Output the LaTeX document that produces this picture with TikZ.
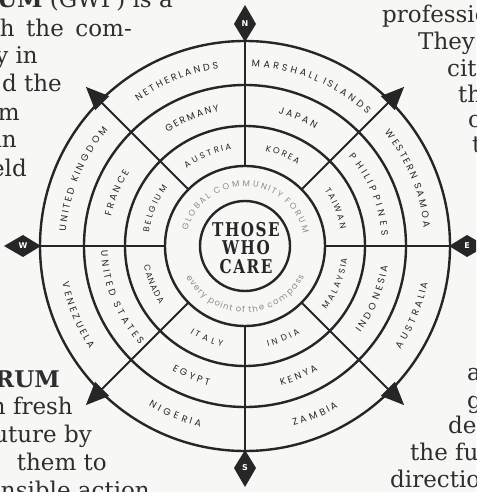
\documentclass[tikz,border=0pt]{standalone}
\usepackage{fontspec}
\setmainfont{DejaVu Serif}
\newfontfamily\labfont{Poppins}
\newfontfamily\slabfont[FakeStretch=0.8,LetterSpace=8]{DejaVu Serif}
\newfontfamily\dirfont{DejaVu Sans}
\usetikzlibrary{decorations.text}
\definecolor{ink}{HTML}{262626}
\definecolor{paper}{HTML}{F7F7F5}
\definecolor{soft}{HTML}{8C8C8C}
\definecolor{bodyink}{HTML}{2E2E2E}
\def\lblsize{\labfont\fontsize{9.5}{9.5}\selectfont}
\newcommand\bodyfnt{\fontsize{23}{28}\selectfont}
% #1 centre angle, #2 baseline radius, #3 characters, #4 pitch, #5 +1 upper / -1 lower, #6 text
\newcommand\arclabel[6]{%
  \pgfmathsetmacro\hspan{#3*#4/#2*90/pi}%
  \pgfmathsetmacro\sang{#1+#5*\hspan}%
  \pgfmathsetmacro\eang{#1-#5*\hspan}%
  \path[decorate, decoration={text effects along path, text={#6},
    /pgf/decoration/text effects/fit text to path,
    /pgf/decoration/text effects/characters={text=ink, font=\lblsize, anchor=base, inner sep=0pt, transform shape}}]
    (\sang:#2) arc[start angle=\sang, end angle=\eang, radius=#2];
}
\begin{document}
\begin{tikzpicture}[x=1pt,y=1pt,
  ring/.style={draw=ink, line width=2.4},
  spoke/.style={draw=ink, line width=2.0},
  bodytext/.style={inner sep=0pt, text=bodyink, font=\bodyfnt},
  compass/.style={inner sep=0pt, text=white, font=\dirfont\bfseries\fontsize{8}{8}\selectfont}]
\useasboundingbox (-245,-246) rectangle (231,246);
\fill[paper] (-245,-246) rectangle (231,246);
\begin{scope}
\clip (-245,-246) rectangle (231,246);
% surrounding page text
\node[bodytext, anchor=base east] (l1) at (-72,238) {\textbf{UM} (GWP) is a};
\node[bodytext, anchor=base east] (l2) at (-113,209) {\makebox[132pt][s]{h the com-}};
\node[bodytext, anchor=base east] (l3) at (-207,182) {y in};
\node[bodytext, anchor=base east] (l4) at (-183,154) {d the};
\node[bodytext, anchor=base east] (l5) at (-225,125) {m};
\node[bodytext, anchor=base east] (l6) at (-228,98) {in};
\node[bodytext, anchor=base east] (l7) at (-218,69) {eld};
\node[bodytext, anchor=base east] (b1) at (-185,-141) {\textbf{RUM}};
\node[bodytext, anchor=base east] (b2) at (-172,-168) {h fresh};
\node[bodytext, anchor=base east] (b3) at (-153,-196) {uture by};
\node[bodytext, anchor=base east] (b4) at (-138,-224) {them to};
\node[bodytext, anchor=base east] (b5) at (-95,-252) {nsible action};
\node[bodytext, anchor=base west] (r1) at (137,223) {professio};
\node[bodytext, anchor=base west] (r2) at (173,196) {They};
\node[bodytext, anchor=base west] (r3) at (202,169) {citi};
\node[bodytext, anchor=base west] (r4) at (213,143) {th};
\node[bodytext, anchor=base west] (r5) at (223,118) {c};
\node[bodytext, anchor=base west] (r6) at (227,93) {t};
\node[bodytext, anchor=base west] (s1) at (222,-134) {a};
\node[bodytext, anchor=base west] (s2) at (222,-162) {g};
\node[bodytext, anchor=base west] (s3) at (203,-187) {de};
\node[bodytext, anchor=base west] (s4) at (165,-214) {the fu};
\node[bodytext, anchor=base west] (s5) at (145,-241) {directio};
% wheel
\fill[paper] (0,0) circle (206);
\foreach \a in {0,45,...,315} \draw[spoke] (\a:80) -- (\a:205);
\foreach \r in {45,80,120,161,205} \draw[ring] (0,0) circle (\r);
% compass diamonds
\foreach \a/\l in {90/N,0/E,270/S,180/W}{
  \begin{scope}[rotate=\a]
    \fill[ink] (204,0) -- (222,11) -- (241,0) -- (222,-11) -- cycle;
  \end{scope}
  \node[compass] (d\l) at (\a:222) {\l};
}
% diagonal arrowheads
\foreach \a in {45,135,225,315}{
  \begin{scope}[rotate=\a]
    \fill[ink] (202,-10) -- (225,0) -- (202,10) -- cycle;
  \end{scope}
}
% outer ring
\arclabel{112.5}{179.6}{11}{8}{1}{NETHERLANDS}
\arclabel{67.5}{179.6}{16}{8}{1}{MARSHALL ISLANDS}
\arclabel{22.5}{179.6}{13}{8}{1}{WESTERN SAMOA}
\arclabel{157.5}{179.6}{14}{8}{1}{UNITED KINGDOM}
\arclabel{-22.5}{186.4}{9}{8}{-1}{AUSTRALIA}
\arclabel{-67.5}{186.4}{6}{8}{-1}{ZAMBIA}
\arclabel{-112.5}{186.4}{7}{8}{-1}{NIGERIA}
\arclabel{202.5}{186.4}{9}{8}{-1}{VENEZUELA}
% middle ring
\arclabel{112.5}{137}{7}{8}{1}{GERMANY}
\arclabel{67.5}{137}{5}{8}{1}{JAPAN}
\arclabel{22.5}{137}{11}{8}{1}{PHILIPPINES}
\arclabel{157.5}{137}{6}{8}{1}{FRANCE}
\arclabel{-22.5}{144}{9}{8}{-1}{INDONESIA}
\arclabel{-67.5}{144}{5}{8}{-1}{KENYA}
\arclabel{-112.5}{144}{5}{8}{-1}{EGYPT}
\arclabel{202.5}{144}{13}{8}{-1}{UNITED STATES}
% inner ring
\def\lblsize{\labfont\fontsize{8.5}{8.5}\selectfont}
\arclabel{112.5}{97}{7}{7}{1}{AUSTRIA}
\arclabel{67.5}{97}{5}{7}{1}{KOREA}
\arclabel{22.5}{97}{6}{7}{1}{TAIWAN}
\arclabel{157.5}{97}{7}{7}{1}{BELGIUM}
\arclabel{-22.5}{103}{8}{7}{-1}{MALAYSIA}
\arclabel{-67.5}{103}{5}{7}{-1}{INDIA}
\arclabel{-112.5}{103}{5}{7}{-1}{ITALY}
\arclabel{202.5}{103}{6}{7}{-1}{CANADA}
% forum ring
\path[decorate, decoration={text effects along path, text={GLOBAL COMMUNITY FORUM},
  /pgf/decoration/text effects/fit text to path,
  /pgf/decoration/text effects/characters={text=soft, anchor=base, inner sep=0pt, transform shape, font=\labfont\fontsize{8.5}{8.5}\selectfont}}]
  (165:59.5) arc[start angle=165, end angle=12, radius=59.5];
\path[decorate, decoration={text effects along path, text={every point of the compass},
  /pgf/decoration/text effects/fit text to path,
  /pgf/decoration/text effects/characters={text=soft, anchor=base, inner sep=0pt, transform shape, font=\labfont\fontsize{8.5}{8.5}\selectfont}}]
  (208:66.5) arc[start angle=208, end angle=333, radius=66.5];
% centre
\node[font=\slabfont\bfseries\fontsize{19}{18.5}\selectfont, align=center, text=ink, inner sep=0pt] (care) at (1,-2) {THOSE\\WHO\\CARE};
\end{scope}
\end{tikzpicture}
\end{document}
